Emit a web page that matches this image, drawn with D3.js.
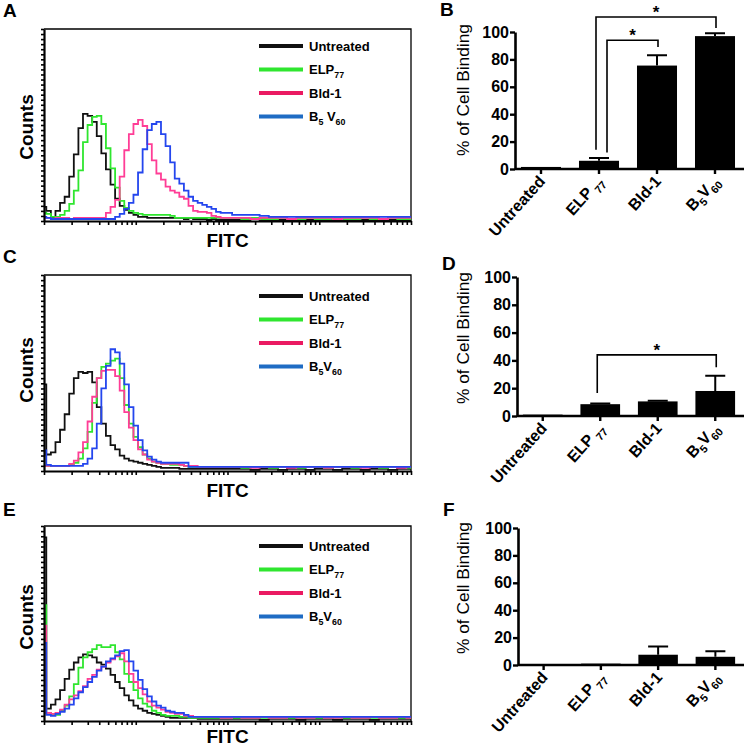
<!DOCTYPE html>
<html lang="en">
<head>
<meta charset="UTF-8">
<title>Cell binding: FITC histograms and % binding</title>
<style>
  body { margin: 0; background: #fff; }
  svg { display: block; font-family: "Liberation Sans", Arial, sans-serif; }
  .plabel { font-size: 19px; font-weight: bold; }
  .axtitle { font-size: 19px; font-weight: bold; }
  .legend text { font-size: 13px; font-weight: bold; }
  .hist path.curve { fill: none; stroke-width: 1.8; }
  .bars .tick text { font-size: 16px; font-weight: bold; }
  .xlab { font-size: 16px; font-weight: bold; }
  .ylab { font-size: 16px; }
  .star { font-size: 17px; font-weight: bold; }
</style>
</head>
<body>
<svg id="fig" width="750" height="747"></svg>
<script src="https://cdn.jsdelivr.net/npm/d3@7"></script>
<script>
// ---- data ----------------------------------------------------------
// FITC channels, as log10 of intensity (fine steps to 10^2, then coarser)
const channels = [
  0, 0.05, 0.1, 0.15, 0.2, 0.25, 0.3, 0.35, 0.4, 0.45,
  0.5, 0.55, 0.6, 0.65, 0.7, 0.75, 0.8, 0.85, 0.9, 0.95,
  1, 1.05, 1.1, 1.15, 1.2, 1.25, 1.3, 1.35, 1.4, 1.45,
  1.5, 1.55, 1.6, 1.65, 1.7, 1.75, 1.8, 1.85, 1.9, 1.95,
  2, 2.1, 2.2, 2.3, 2.4, 2.5, 2.6, 2.7, 2.8, 2.9,
  3, 3.1, 3.2, 3.3, 3.4, 3.5, 3.6, 3.7, 3.8, 3.9, 4
];

// "_" marks a subscript
const samples = ["Untreated", "ELP_77", "Bld-1", "B_5V_60"];
const legendA = ["Untreated", "ELP_77", "Bld-1", "B_5 V_60"];

// panel A counts
const aUntreated = [
  14,10,3,10,18,24,44,66,92,106,
  104,98,84,67,51,36,22,15,11,8,
  6,4,4,3,3,3,3,3,3,3,
  3,2,3,2,2,2,1,2,1,1,
  1,1,1,2,1,1,1,1,1,1,
  1,1,1,1,1,1,1,1,1,1,1];
const aElp77 = [
  8,7,4,4,6,10,17,30,50,78,
  95,103,104,96,72,52,33,20,13,10,
  8,7,6,6,6,6,6,6,5,3,
  3,3,3,3,3,3,3,3,3,3,
  3,3,2,3,2,2,3,2,2,3,
  2,2,3,2,2,3,2,2,3,2,2];
const aBld1 = [
  3,3,2,3,3,3,2,3,3,3,
  3,3,3,3,8,14,21,44,70,86,
  96,100,94,76,60,47,41,34,30,28,
  24,22,15,10,9,9,8,5,4,3,
  3,3,3,2,3,3,3,2,3,3,
  3,3,2,3,3,3,3,2,3,3,3];
const aB5V60 = [
  4,3,2,2,2,2,2,2,2,2,
  2,2,2,2,2,2,4,7,12,18,
  26,48,71,90,96,98,86,74,58,42,
  37,30,24,20,18,16,14,12,9,8,
  8,6,6,6,5,4,4,4,4,4,
  4,4,4,4,4,4,4,4,4,4,4];

// panel C counts
const cUntreated = [
  84,16,18,28,40,55,75,90,96,95,
  96,86,62,46,34,25,21,15,12,10,
  9,8,7,6,5,4,3,3,3,3,
  2,2,2,2,2,2,2,2,2,2,
  2,2,2,1,2,2,1,2,2,1,
  2,2,1,2,2,1,2,2,1,2,2];
const cElp77 = [
  5,5,5,5,5,5,6,8,12,22,
  38,66,90,101,104,107,109,90,64,46,
  33,23,16,12,9,8,7,7,6,6,
  6,5,4,4,4,4,4,4,4,4,
  4,4,3,4,4,3,4,4,3,4,
  4,3,4,4,3,4,4,3,4,4,3];
const cBld1 = [
  5,5,5,5,5,5,7,10,18,28,
  48,72,90,97,98,98,92,78,57,42,
  30,21,16,11,9,8,7,7,7,7,
  6,5,5,5,4,4,4,4,4,4,
  4,4,4,3,4,4,4,3,4,4,
  4,3,4,4,4,3,4,4,4,3,4];
const cB5V60 = [
  20,6,5,5,5,5,5,5,5,7,
  12,22,46,80,102,118,115,104,84,62,
  44,30,20,14,11,9,8,8,8,8,
  8,8,4,4,4,4,4,4,4,4,
  4,4,4,4,4,4,4,4,4,4,
  4,4,4,4,4,4,4,4,4,4,4];

// panel E counts
const eUntreated = [
  179,12,16,21,30,41,50,57,62,65,
  64,62,57,55,51,45,38,32,25,20,
  15,12,10,8,7,6,5,4,3,3,
  3,3,3,3,2,2,2,2,2,2,
  2,2,2,2,1,2,2,2,1,2,
  2,2,1,2,2,2,1,2,2,2,2];
const eElp77 = [
  113,8,6,6,10,15,24,36,52,62,
  67,70,74,72,72,74,67,60,46,38,
  30,22,17,14,10,8,6,5,5,5,
  4,4,3,3,3,3,3,3,3,3,
  3,3,3,3,3,3,3,3,3,3,
  3,3,3,3,3,3,3,3,3,3,3];
const eBld1 = [
  93,8,7,8,11,16,21,25,29,34,
  41,45,50,53,57,60,63,66,58,46,
  38,32,26,19,15,13,11,9,8,7,
  7,5,5,4,4,4,4,4,4,3,
  3,4,3,3,4,3,3,4,3,3,
  4,3,3,4,3,3,4,3,3,4,3];
const eB5V60 = [
  76,6,5,7,9,12,16,22,28,33,
  38,43,49,53,58,61,64,68,69,58,
  49,40,31,24,19,15,13,10,9,8,
  8,6,4,4,4,4,4,4,4,4,
  4,4,4,4,4,4,4,4,4,4,
  4,4,4,4,4,4,4,4,4,4,4];

// % of cell binding (mean, upper error)
const barCategories = ["Untreated", "ELP\u2009_77", "Bld-1", "B_5V_60"];
const bMean = [1.5, 6, 75.5, 97];
const bErr  = [0, 2, 7.5, 2];
const dMean = [1, 8.5, 10.5, 18];
const dErr  = [0, 0.5, 0.5, 11];
const fMean = [0.3, 1, 7.5, 6];
const fErr  = [0, 0, 6, 4];

// significance brackets: [from, to, bracket level, left leg end, right leg end] (in %)
const bBrackets = [[1, 2, 94, 12, 89], [1, 3, 111, 14, 103]];
const dBrackets = [[1, 3, 44, 16.5, 35]];
const fBrackets = [];

// ---- styles / layout ------------------------------------------------
const curveColors  = ["#111111", "#2fe62f", "#ff3d96", "#2446ee"];
const legendColors = ["#111111", "#2fe62f", "#ea1a62", "#1f6cc4"];

const histPanels = [
  { label: "A", ly: 17,  y0: 29,  y1: 221, fitcY: 247, countsY: 127, legTop: 46,
    series: [aUntreated, aElp77, aBld1, aB5V60], legend: legendA },
  { label: "C", ly: 263, y0: 275, y1: 471, fitcY: 497, countsY: 370, legTop: 296,
    series: [cUntreated, cElp77, cBld1, cB5V60], legend: samples },
  { label: "E", ly: 516, y0: 526, y1: 721, fitcY: 743, countsY: 617, legTop: 546,
    series: [eUntreated, eElp77, eBld1, eB5V60], legend: samples }
];
const barPanels = [
  { label: "B", lx: 440, ly: 16,  ax: 515, yTop: 32,  yBot: 169, labY: 90,
    mean: bMean, err: bErr, brackets: bBrackets },
  { label: "D", lx: 442, ly: 270, ax: 517, yTop: 277, yBot: 416, labY: 338,
    mean: dMean, err: dErr, brackets: dBrackets },
  { label: "F", lx: 443, ly: 516, ax: 518, yTop: 528, yBot: 665, labY: 588,
    mean: fMean, err: fErr, brackets: fBrackets }
];

const svg = d3.select("#fig");

// write "ELP_77"-style strings as tspans with subscripts
function rich(text, str, size) {
  const shift = size * 0.3;
  let down = false;
  str.split(/_(\d+)/).forEach((p, i) => {
    if (!p) return;
    const sub = i % 2 === 1;
    const t = text.append("tspan").text(p);
    if (sub) {
      t.attr("font-size", size * 0.68).attr("dy", down ? 0 : shift);
      down = true;
    } else {
      t.attr("dy", down ? -shift : 0);
      down = false;
    }
  });
}

// ---- histograms ------------------------------------------------------
histPanels.forEach(p => {
  const g = svg.append("g").attr("class", "hist");
  const x0 = 44, x1 = 411;
  const x = d3.scaleLog().domain([1, 1e4]).range([x0, x1]);
  const y = d3.scaleLinear().domain([0, 190]).range([p.y1, p.y0]);

  g.append("text").attr("class", "plabel").attr("x", 3).attr("y", p.ly).text(p.label);

  // frame: thin top/right
  g.append("path")
    .attr("d", `M${x0},${p.y0}H${x1}V${p.y1}`)
    .attr("fill", "none").attr("stroke", "#000").attr("stroke-width", 1.3);

  const line = d3.line()
    .x((d, i) => x(Math.pow(10, channels[i])))
    .y(d => y(d))
    .curve(d3.curveStep);

  p.series.forEach((s, k) => {
    g.append("path").attr("class", "curve")
      .attr("d", line(s))
      .attr("stroke", curveColors[k]);
  });

  const xAxis = g.append("g")
    .attr("transform", `translate(0,${p.y1})`)
    .call(d3.axisBottom(x).tickValues(x.ticks()).tickFormat("").tickSize(4).tickSizeOuter(0));
  xAxis.select(".domain").attr("stroke-width", 2.2);
  xAxis.selectAll(".tick line").attr("stroke-width", 1.6);

  const yAxis = g.append("g")
    .attr("transform", `translate(${x0},0)`)
    .call(d3.axisLeft(y).tickValues(d3.range(0, 191, 5)).tickFormat("").tickSize(3).tickSizeOuter(0));
  yAxis.select(".domain").attr("stroke-width", 2.2);
  yAxis.selectAll(".tick line").attr("stroke-width", 1.6);

  g.append("text").attr("class", "axtitle")
    .attr("x", (x0 + x1) / 2).attr("y", p.fitcY)
    .attr("text-anchor", "middle").text("FITC");
  g.append("text").attr("class", "axtitle")
    .attr("transform", `translate(33,${p.countsY}) rotate(-90)`)
    .attr("text-anchor", "middle").text("Counts");

  const leg = g.append("g").attr("class", "legend");
  p.legend.forEach((name, k) => {
    const ly = p.legTop + k * 23.5;
    leg.append("line")
      .attr("x1", 259).attr("x2", 303).attr("y1", ly).attr("y2", ly)
      .attr("stroke", legendColors[k]).attr("stroke-width", 4);
    const t = leg.append("text").attr("x", 309).attr("y", ly + 4.5);
    rich(t, name, 13);
  });
});

// ---- bar charts ------------------------------------------------------
barPanels.forEach(p => {
  const g = svg.append("g").attr("class", "bars");
  const xEnd = 744;
  const x = d3.scaleBand().domain(barCategories)
    .range([p.ax - 3, xEnd]).paddingInner(0.31).paddingOuter(0.155);
  const y = d3.scaleLinear().domain([0, 100]).range([p.yBot, p.yTop]);
  const cx = i => x(barCategories[i]) + x.bandwidth() / 2;

  g.append("text").attr("class", "plabel").attr("x", p.lx).attr("y", p.ly).text(p.label);

  g.selectAll("rect.bar")
    .data(p.mean)
    .join("rect")
      .attr("class", "bar")
      .attr("x", (d, i) => x(barCategories[i]))
      .attr("width", x.bandwidth())
      .attr("y", d => y(d))
      .attr("height", d => p.yBot - y(d))
      .attr("fill", "#000");

  // upper error bars
  p.err.forEach((e, i) => {
    if (!e) return;
    const top = y(p.mean[i] + e);
    g.append("path")
      .attr("d", `M${cx(i)},${y(p.mean[i])}V${top}M${cx(i) - 10},${top}H${cx(i) + 10}`)
      .attr("stroke", "#000").attr("stroke-width", 2).attr("fill", "none");
  });

  const yAxis = g.append("g")
    .attr("transform", `translate(${p.ax},0)`)
    .call(d3.axisLeft(y).tickValues([0, 20, 40, 60, 80, 100]).tickSize(5).tickPadding(1).tickSizeOuter(0));
  yAxis.select(".domain").attr("stroke-width", 2.6);
  yAxis.selectAll(".tick line").attr("stroke-width", 2.4);
  yAxis.selectAll(".tick text").attr("fill", "#000");

  // x axis line and ticks
  g.append("line")
    .attr("x1", p.ax).attr("x2", xEnd).attr("y1", p.yBot).attr("y2", p.yBot)
    .attr("stroke", "#000").attr("stroke-width", 2.6);
  barCategories.forEach((c, i) => {
    g.append("line")
      .attr("x1", cx(i)).attr("x2", cx(i)).attr("y1", p.yBot).attr("y2", p.yBot + 5)
      .attr("stroke", "#000").attr("stroke-width", 2.4);
    const t = g.append("text").attr("class", "xlab")
      .attr("text-anchor", "end")
      .attr("transform", `translate(${cx(i) + 5},${p.yBot + 13}) rotate(-48)`);
    rich(t, c, 16);
  });

  g.append("text").attr("class", "ylab")
    .attr("transform", `translate(469,${p.labY}) rotate(-90)`)
    .attr("text-anchor", "middle")
    .attr("textLength", 132).attr("lengthAdjust", "spacingAndGlyphs")
    .text("% of Cell Binding");

  // significance brackets
  p.brackets.forEach(([a, b, level, legA, legB]) => {
    const xa = cx(a) + (b - a === 1 ? 8 : -3);
    const xb = cx(b) + 1;
    const yl = y(level);
    g.append("path")
      .attr("d", `M${xa},${y(legA)}V${yl}H${xb}V${y(legB)}`)
      .attr("fill", "none").attr("stroke", "#000").attr("stroke-width", 1.6);
    g.append("text").attr("class", "star")
      .attr("x", (xa + xb) / 2).attr("y", yl + 1)
      .attr("text-anchor", "middle").text("*");
  });
});
</script>
</body>
</html>
